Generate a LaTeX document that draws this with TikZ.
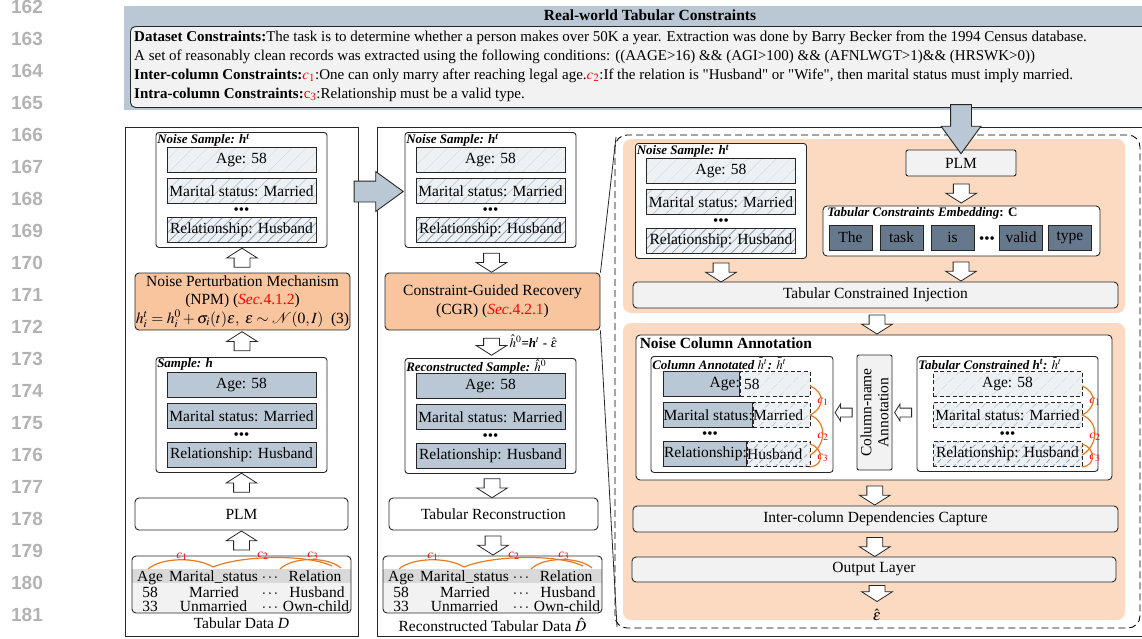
\documentclass[tikz,border=0pt]{standalone}
\usepackage{mathptmx}
\usepackage{fontspec}
\setmainfont{Liberation Serif}
\newfontfamily\numfont{Liberation Sans}
\usetikzlibrary{calc,positioning,shapes.arrows,patterns.meta}

\definecolor{bandblue}{HTML}{B9C8D4}
\definecolor{paleg}{HTML}{F2F2F2}
\definecolor{rowbg}{HTML}{EEF1F4}
\definecolor{hatchA}{HTML}{D3DCE4}
\definecolor{hatchB}{HTML}{B7C6D3}
\definecolor{hatchC}{HTML}{8EA4BA}
\definecolor{token}{HTML}{66798C}
\definecolor{npmorange}{HTML}{F8C59E}
\definecolor{peach}{HTML}{FBDAC1}
\definecolor{arcorange}{HTML}{E8791F}
\definecolor{headgray}{HTML}{D9D9D9}
\definecolor{edge}{HTML}{262626}

\newcommand{\bdots}{\textbullet\textbullet\textbullet}

\tikzset{
  lineno/.style={font=\numfont\bfseries\fontsize{19}{20}\selectfont, text=black!30},
  panel/.style={draw=edge, line width=0.9pt},
  sbox/.style={draw=edge, line width=0.9pt, rounded corners=3pt, fill=white, minimum width=171pt, minimum height=115pt, inner sep=0pt},
  stitle/.style={font=\fontsize{13}{14}\selectfont\bfseries\itshape, inner sep=1.5pt},
  row/.style={draw=edge, line width=0.8pt, minimum width=149pt, minimum height=25pt, inner sep=0pt},
  cleanrow/.style={row, fill=bandblue},
  noiseA/.style={row, preaction={fill=rowbg}, pattern={Lines[angle=45,distance=10pt,line width=0.5pt]}, pattern color=hatchA},
  noiseB/.style={row, preaction={fill=rowbg}, pattern={Lines[angle=45,distance=9pt,line width=0.6pt]}, pattern color=hatchB},
  noiseC/.style={row, preaction={fill=rowbg}, pattern={Lines[angle=45,distance=7pt,line width=0.8pt]}, pattern color=hatchC},
  dashA/.style={noiseA, dash pattern=on 4pt off 2.5pt},
  dashB/.style={noiseB, dash pattern=on 4pt off 2.5pt},
  dashC/.style={noiseC, dash pattern=on 4pt off 2.5pt},
  rowdots/.style={font=\fontsize{15}{15}\selectfont, inner sep=0pt, anchor=base},
  orangebox/.style={draw=edge, line width=0.9pt, rounded corners=4pt, fill=npmorange, align=center, inner sep=0pt},
  whitebox/.style={draw=edge, line width=0.9pt, rounded corners=4pt, fill=white, inner sep=0pt},
  graybox/.style={whitebox, fill=paleg},
  tokenbox/.style={draw=edge, line width=0.8pt, fill=token, minimum width=43pt, minimum height=25pt, inner sep=0pt},
  tabbox/.style={draw=edge, line width=0.9pt, rounded corners=4pt, minimum width=219pt, minimum height=57pt, inner sep=0pt},
  tabtxt/.style={anchor=base, inner sep=0pt},
  basearr/.style={single arrow, draw=edge, line width=0.8pt, fill=white, minimum height=19pt, inner xsep=0pt, inner ysep=7.5pt, single arrow head extend=7.5pt, single arrow tip angle=115},
  downarr/.style={basearr, rotate=-90},
  uparr/.style={basearr, rotate=90},
  leftarr/.style={basearr, rotate=180, minimum height=17pt, inner ysep=4pt, single arrow head extend=4pt},
  bigarr/.style={single arrow, draw=edge, line width=0.9pt, fill=bandblue, minimum height=49pt, inner xsep=0pt, inner ysep=10pt, single arrow head extend=9.5pt, single arrow tip angle=72},
  cmark/.style={text=red, font=\fontsize{13}{14}\selectfont, inner sep=0pt},
  carc/.style={arcorange, line width=1.2pt},
  consline/.style={anchor=west, inner sep=0pt, font=\fontsize{15}{17}\selectfont},
}

% sample box: [box opts]{name}{x}{top y}{title}{row1}{row2}{row3}
\newcommand{\samplebox}[8][]{%
  \node[sbox, #1, anchor=north] (#2) at (#3,#4) {};
  \node[stitle, anchor=north west] at (#2.north west) {#5};
  \node[#6] (#2-1) at (#3,{#4+28}) {Age: 58};
  \node[#7] (#2-2) at (#3,{#4+59}) {Marital status: Married};
  \node[rowdots] at (#3,{#4+82}) {\bdots};
  \node[#8] (#2-3) at (#3,{#4+98}) {Relationship: Husband};
}

% tabular data: {name}{left x}{caption}
\newcommand{\tabdata}[3]{%
  \begin{scope}[shift={(#2,0)}]
    \begin{scope}
      \clip[rounded corners=4pt] (0,556) rectangle (219,613);
      \fill[paleg] (0,583) rectangle (219,613);
      \fill[headgray] (0,569) rectangle (219,583);
    \end{scope}
    \node[tabbox] (#1) at (109.5,584.5) {};
    \node[tabtxt] at (18,581) {Age};
    \node[tabtxt] at (81.5,581) {Marital\_status};
    \node[tabtxt] at (138,581) {$\cdots$};
    \node[tabtxt] at (183,581) {Relation};
    \node[tabtxt] at (18,597) {58};
    \node[tabtxt] at (82,597) {Married};
    \node[tabtxt] at (138,597) {$\cdots$};
    \node[tabtxt] at (185,597) {Husband};
    \node[tabtxt] at (18,611) {33};
    \node[tabtxt] at (81.5,611) {Unmarried};
    \node[tabtxt] at (138,611) {$\cdots$};
    \node[tabtxt] at (184,611) {Own-child};
    \draw[carc] (16,569) .. controls (30,557) and (65,557) .. (81,567);
    \draw[carc] (81,567) .. controls (110,555) and (175,554) .. (200,566);
    \draw[carc] (148,569) .. controls (160,557) and (195,556) .. (209,568);
    \node[cmark] at (50,557) {$c_1$};
    \node[cmark] at (131,556) {$c_2$};
    \node[cmark] at (181,556) {$c_3$};
  \end{scope}
  \node[anchor=north, inner sep=0pt] at ($(#1.south)+(0,4)$) {#3};
}

% constraint brackets on the right side of rows
\newcommand{\cbrackets}[1]{%
  \draw[carc] (#1,386) .. controls ({#1+15},392) and ({#1+15},408) .. (#1,415);
  \draw[carc] (#1,415) .. controls ({#1+18},422) and ({#1+16},446) .. (#1,455);
  \draw[carc] (#1,444) .. controls ({#1+14},448) and ({#1+14},466) .. (#1,467);
  \node[cmark] at ({#1+13},402) {$c_1$};
  \node[cmark] at ({#1+13},437) {$c_2$};
  \node[cmark] at ({#1+13},458) {$c_3$};
}

\begin{document}
\begin{tikzpicture}[x=1pt, y=-1pt, font=\fontsize{15.5}{17}\selectfont]
\useasboundingbox (0,0) rectangle (1142,638);

% line numbers
\foreach \n in {162,...,181}
  \node[lineno] at (27,{7+(\n-162)*32}) {\n};

% constraints
\fill[bandblue] (124,6) rectangle (1150,110);
\node[font=\fontsize{15.5}{17}\selectfont\bfseries, inner sep=0pt] (hdr) at (650,15) {Real-world Tabular Constraints};
\node[draw=edge, line width=0.9pt, rounded corners=5pt, fill=paleg, minimum width=1030pt, minimum height=81pt, anchor=north west, inner sep=0pt] (cons) at (130,26) {};
\node[consline] (l1) at (134,38) {\textbf{Dataset Constraints:}The task is to determine whether a person makes over 50K a year. Extraction was done by Barry Becker from the 1994 Census database.};
\node[consline] (l2) at (134,57) {A set of reasonably clean records was extracted using the following conditions: ((AAGE>16) \&\& (AGI>100) \&\& (AFNLWGT>1)\&\& (HRSWK>0))};
\node[consline] (l3) at (134,76) {\textbf{Inter-column Constraints:}\textcolor{red}{$c_1$}:One can only marry after reaching legal age.\textcolor{red}{$c_2$}:If the relation is \textquotedbl Husband\textquotedbl{} or \textquotedbl Wife\textquotedbl, then marital status must imply married.};
\node[consline] (l4) at (134,95) {\textbf{Intra-column Constraints:}\textcolor{red}{c\textsubscript{3}}:Relationship must be a valid type.};

% panels
\draw[panel] (125,127) rectangle (358,636);
\draw[panel] (377,127) rectangle (1150,636);

% zoomed region
\draw[line width=0.9pt, dash pattern=on 7pt off 4pt, rounded corners=12pt] (615,135) rectangle (1140,628);
\fill[peach, rounded corners=8pt] (623,139) rectangle (1125,313);
\fill[peach, rounded corners=8pt] (623,323) rectangle (1125,620);
\coordinate (ztop) at (616,137);
\coordinate (zbot) at (617,627);

%%%%% left panel %%%%%
\samplebox{ln}{241.5}{132}{Noise Sample: \textit{h}\textsuperscript{\textit{t}}}{noiseA}{noiseB}{noiseC}
\node[orangebox, minimum width=215pt, minimum height=57pt, font=\fontsize{15.5}{18.5}\selectfont] (npm) at (242.5,301.5)
  {Noise Perturbation Mechanism\\(NPM) (\textcolor{red}{\textit{Sec.}4.1.2})\\$h_i^t=h_i^0+\sigma_i(t)\varepsilon,\ \varepsilon\sim\mathcal{N}(0,I)$\ \ (3)};
\samplebox{ls}{241.5}{357}{Sample: \textit{h}}{cleanrow}{cleanrow}{cleanrow}
\node[whitebox, minimum width=213pt, minimum height=32pt] (lplm) at (241.5,514) {PLM};
\tabdata{lt}{132}{Tabular Data \textit{D}}

\node[uparr] at ($(npm.north)!0.5!(ln.south)$) {};
\node[uparr] at ($(ls.north)!0.5!(npm.south)$) {};
\node[uparr] at ($(lplm.north)!0.5!(ls.south)$) {};
\node[uparr] at ($(lt.north)!0.5!(lplm.south)$) {};

%%%%% middle panel %%%%%
\samplebox{mn}{490.5}{132}{Noise Sample: \textit{h}\textsuperscript{\textit{t}}}{noiseA}{noiseB}{noiseC}
\node[orangebox, minimum width=215pt, minimum height=57pt, font=\fontsize{15.5}{19}\selectfont] (cgr) at (492.5,301.5)
  {Constraint-Guided Recovery\\(CGR) (\textcolor{red}{\textit{Sec.}4.2.1})};
\samplebox{mr}{490.5}{358}{Reconstructed Sample: $\hat{h}^0$}{cleanrow}{cleanrow}{cleanrow}
\node[whitebox, minimum width=209pt, minimum height=32pt] (trec) at (493.5,514) {Tabular Reconstruction};
\tabdata{mt}{383}{Reconstructed Tabular Data $\hat{D}$}

\node[downarr] at ($(mn.south)!0.5!(cgr.north)$) {};
\node[downarr, minimum height=17pt] (rarr) at ($(cgr.south)!0.5!(mr.north)$) {};
\node[anchor=west, inner sep=0pt, font=\fontsize{13}{14}\selectfont\bfseries] at ($(rarr.center)+(18,-3)$) {$\hat{h}^0$=\textit{h}$^t$ - $\hat{\varepsilon}$};
\node[downarr] at ($(mr.south)!0.5!(trec.north)$) {};
\node[downarr] at ($(trec.south)!0.5!(mt.north)$) {};

\draw[line width=0.8pt, edge] (cgr.north east) -- (ztop);
\draw[line width=0.8pt, edge] (cgr.south east) -- (zbot);

%%%%% right region %%%%%
\samplebox{rn}{721}{143}{Noise Sample: \textit{h}\textsuperscript{\textit{t}}}{noiseA}{noiseB}{noiseC}
\node[graybox, rounded corners=2pt, minimum width=110pt, minimum height=26pt] (rplm) at (961,163) {PLM};
\node[whitebox, minimum width=277pt, minimum height=50pt] (emb) at (961.5,231) {};
\node[stitle, anchor=north west] at ($(emb.north west)+(3,0)$) {Tabular Constraints Embedding\textup{: C}};
\node[tokenbox] (tk1) at (850.5,237.5) {The};
\node[tokenbox] (tk2) at (901.5,237.5) {task};
\node[tokenbox] (tk3) at (952.5,237.5) {is};
\node[rowdots] at (987,243) {\bdots};
\node[tokenbox] (tk4) at (1021,237.5) {valid};
\node[tokenbox] (tk5) at (1070,237.5) {type};
\node[graybox, minimum width=485pt, minimum height=26pt] (inj) at (875.5,295) {Tabular Constrained Injection};

\node[downarr] at ($(rplm.south)!0.5!(emb.north)$) {};
\node[downarr] at (721,270) {};
\node[downarr] at (961,269) {};
\node[downarr] at (877,322) {};

% noise column annotation
\node[whitebox, minimum width=476pt, minimum height=145pt] (nca) at (874,407.5) {};
\node[anchor=north west, inner sep=2pt, font=\fontsize{15.5}{17}\selectfont\bfseries] at ($(nca.north west)+(2,1)$) {Noise Column Annotation};

\node[sbox, minimum width=182pt, minimum height=116pt, anchor=north] (ca) at (742,356) {};
\node[stitle, anchor=north west] at (ca.north west) {Column Annotated $\tilde{h}^t$: $\bar{h}^t$};
\node[cleanrow, minimum width=76pt, anchor=east] (ca-1l) at (740,384) {};
\node[dashA, minimum width=70pt, anchor=west] (ca-1r) at (740,384) {};
\node[anchor=east, inner sep=0pt] at (ca-1l.east) {Age:};
\node[anchor=west, inner sep=0pt] at (ca-1r.west) {\ 58};
\node[cleanrow, minimum width=89pt, anchor=east] (ca-2l) at (753,415) {};
\node[dashB, minimum width=57pt, anchor=west] (ca-2r) at (753,415) {};
\node[anchor=east, inner sep=0pt] at (ca-2l.east) {Marital status:};
\node[anchor=west, inner sep=0pt] at (ca-2r.west) {Married};
\node[rowdots] at (710,438) {\bdots};
\node[cleanrow, minimum width=83pt, anchor=east] (ca-3l) at (747,454) {};
\node[dashC, minimum width=63pt, anchor=west] (ca-3r) at (747,454) {};
\node[anchor=east, inner sep=0pt] at (ca-3l.east) {Relationship:};
\node[anchor=west, inner sep=0pt] at (ca-3r.west) {Husband};
\cbrackets{810}

\node[graybox, rounded corners=2pt, rotate=90, minimum width=115pt, minimum height=35pt, align=center, font=\fontsize{15.5}{17}\selectfont] (cn) at (874.5,412.5) {Column-name\\Annotation};

\samplebox[minimum width=181pt]{tc}{1007.5}{356}{Tabular Constrained \textit{h}\textsuperscript{\textit{t}}: $\tilde{h}^t$}{dashA}{dashB}{dashC}
\cbrackets{1082}

% rotated node: cn.south is its right side, cn.north its left side
\node[leftarr] at ($(tc.west|-cn.center)!0.5!(cn.south)$) {};
\node[leftarr] at ($(cn.north)!0.5!(ca.east|-cn.center)$) {};

\node[graybox, minimum width=485pt, minimum height=26pt] (icd) at (875.5,519) {Inter-column Dependencies Capture};
\node[graybox, minimum width=484pt, minimum height=25pt] (outl) at (874,569.5) {Output Layer};
\node[inner sep=0pt] (eps) at (877,615) {$\hat{\varepsilon}$};

\node[downarr] at ($(nca.south)!0.5!(icd.north)$) {};
\node[downarr] at ($(icd.south)!0.5!(outl.north)$) {};
\node[downarr, minimum height=16pt] at (877,591) {};

% big arrows
\node[bigarr] (parr) at (371.5,191.5) {};
\node[bigarr, rotate=-90] (carr) at (961,122) {};
\end{tikzpicture}
\end{document}
